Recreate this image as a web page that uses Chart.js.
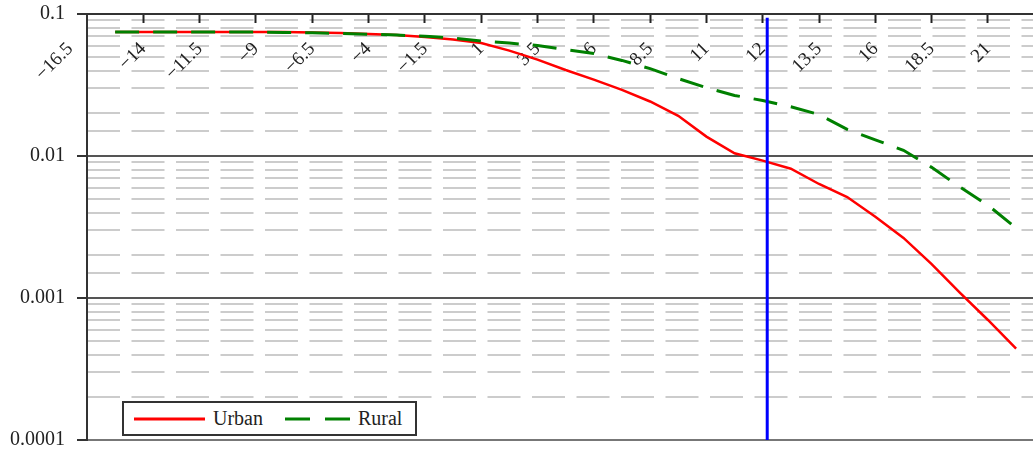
<!DOCTYPE html>
<html>
<head>
<meta charset="utf-8">
<script src="https://cdn.jsdelivr.net/npm/chart.js@4/dist/chart.umd.min.js"></script>
<style>
    html, body { margin: 0; padding: 0; background: #fff; }
    #wrap { position: relative; width: 1033px; height: 451px; }
    #legend {
        position: absolute; left: 122px; top: 401px; width: 295px; height: 35px;
        box-sizing: border-box; border: 2px solid #333; background: #fff;
        display: flex; align-items: center; padding-left: 10px;
        font: 20px 'Liberation Serif', serif; color: #222;
    }
    #legend .item { display: flex; align-items: center; margin-right: 22px; }
    #legend svg { margin-right: 8px; }
</style>
</head>
<body>
<div id="wrap">
    <canvas id="chart" width="1033" height="451"></canvas>
    <div id="legend"></div>
</div>
<script>
// x axis: tick positions 0..16 carry these labels
const tickLabels = ['\u221216.5', '\u221214', '\u221211.5', '\u22129', '\u22126.5', '\u22124', '\u22121.5',
    '1', '3.5', '6', '8.5', '11', '12', '13.5', '16', '18.5', '21'];

// sample positions on the x axis (tick units)
const xPos = [0.5, 1, 1.5, 2, 2.5, 3, 3.5, 4, 4.5, 5, 5.5, 6, 6.5, 7, 7.5, 8, 8.5,
    9, 9.5, 10, 10.5, 11, 11.5, 12, 12.5, 13, 13.5, 14, 14.5, 15, 15.5, 16, 16.5];

const urban = [0.0747, 0.0747, 0.0747, 0.0747, 0.0747, 0.0747, 0.0747, 0.0741, 0.0735, 0.0723, 0.0711,
    0.0689, 0.0661, 0.0625, 0.0552, 0.0477, 0.0403, 0.0345, 0.0292, 0.0242, 0.0192, 0.0137,
    0.01045, 0.00928, 0.00814, 0.00635, 0.00514, 0.00373, 0.00265, 0.00173, 0.00109, 0.00070, 0.00044];

const rural = [0.0747, 0.0747, 0.0747, 0.0747, 0.0747, 0.0747, 0.0742, 0.0737, 0.0729, 0.0721, 0.0711,
    0.0697, 0.0678, 0.0645, 0.0624, 0.0600, 0.0561, 0.0527, 0.0471, 0.0412, 0.0351, 0.0303,
    0.0267, 0.0246, 0.0222, 0.0196, 0.0154, 0.0130, 0.01097, 0.00832, 0.00605, 0.00450, 0.00311];

// vertical marker line
const markerX = 12.08;
const markerY = [0.0001, 0.094];

const yMin = 0.0001;
const yMax = 0.1;

const isMajor = (v) => Math.abs(Math.log10(v) - Math.round(Math.log10(v))) < 1e-6;
const serif = "'Liberation Serif', 'Times New Roman', serif";

const toPoints = (ys) => ys.map((y, i) => ({ x: xPos[i], y: y }));

// log axes reserve half a label above/below the plot; the plot here runs to the edges
const noVerticalPadding = (scale) => { scale.paddingTop = 0; scale.paddingBottom = 0; };

const datasets = [
    {
        label: 'Urban',
        data: toPoints(urban),
        borderColor: '#ff0000',
        borderWidth: 2.5,
        pointRadius: 0,
        order: 3
    },
    {
        label: 'Rural',
        data: toPoints(rural),
        borderColor: '#008000',
        borderWidth: 3,
        borderDash: [24, 14],
        pointRadius: 0,
        order: 2
    },
    {
        label: 'marker',
        data: markerY.map(y => ({ x: markerX, y: y })),
        borderColor: '#0000ff',
        borderWidth: 3,
        pointRadius: 0,
        order: 1
    }
];

new Chart(document.getElementById('chart'), {
    type: 'line',
    data: { datasets: datasets },
    options: {
        responsive: false,
        animation: false,
        layout: { padding: { top: 14, right: 0, bottom: 11, left: 0 } },
        plugins: {
            legend: { display: false },
            tooltip: { enabled: false }
        },
        scales: {
            x: {
                type: 'linear',
                position: { y: yMax },
                min: 0,
                max: 16.8,
                afterBuildTicks: (scale) => {
                    // first label sits just left of the y axis
                    scale.ticks = tickLabels.map((_, i) => ({ value: i === 0 ? -0.3 : i }));
                },
                ticks: {
                    autoSkip: false,
                    minRotation: 45,
                    maxRotation: 45,
                    padding: 16,
                    color: '#222',
                    font: { family: serif, size: 19 },
                    callback: (val, i) => tickLabels[i]
                },
                grid: {
                    z: 1,
                    drawOnChartArea: false,
                    tickLength: 8,
                    tickColor: (ctx) => ctx.index === 0 ? 'rgba(0,0,0,0)' : '#222',
                    tickWidth: 2
                },
                border: { color: '#333', width: 2, z: 1 }
            },
            y: {
                type: 'logarithmic',
                position: 'left',
                min: yMin,
                max: yMax,
                afterFit: (scale) => { scale.width = 87; noVerticalPadding(scale); },
                ticks: {
                    padding: 12,
                    color: '#222',
                    font: { family: serif, size: 20 },
                    callback: (val) => isMajor(val) ? String(Number(val.toPrecision(1))) : ''
                },
                grid: {
                    lineWidth: 2,
                    color: (ctx) => {
                        if (!ctx.tick || !isMajor(ctx.tick.value)) return 'rgba(0,0,0,0)';
                        return ctx.tick.value === yMin ? '#777' : '#555';
                    },
                    tickLength: 10,
                    tickWidth: 2,
                    tickColor: (ctx) => ctx.tick && isMajor(ctx.tick.value) ? '#333' : 'rgba(0,0,0,0)'
                },
                border: { color: '#333', width: 2 }
            },
            yMinor: {
                type: 'logarithmic',
                position: 'left',
                min: yMin,
                max: yMax,
                afterFit: (scale) => { scale.width = 0; noVerticalPadding(scale); },
                ticks: { display: false },
                grid: {
                    drawTicks: false,
                    lineWidth: 2,
                    color: (ctx) => ctx.tick && !isMajor(ctx.tick.value) ? '#cccccc' : 'rgba(0,0,0,0)'
                },
                border: { display: false, dash: [33, 11.5] }
            }
        }
    }
});

// legend box in the lower left
const legendEl = document.getElementById('legend');
datasets.slice(0, 2).forEach(ds => {
    const w = ds.borderDash ? 65 : 71;
    const dash = ds.borderDash ? 'stroke-dasharray="25 15"' : '';
    const item = `
        <div class="item">
            <svg width="${w}" height="6"><line x1="0" y1="3" x2="${w}" y2="3" stroke="${ds.borderColor}" stroke-width="3" ${dash}/></svg>
            <span>${ds.label}</span>
        </div>
    `;
    legendEl.insertAdjacentHTML('beforeend', item);
});
</script>
</body>
</html>
